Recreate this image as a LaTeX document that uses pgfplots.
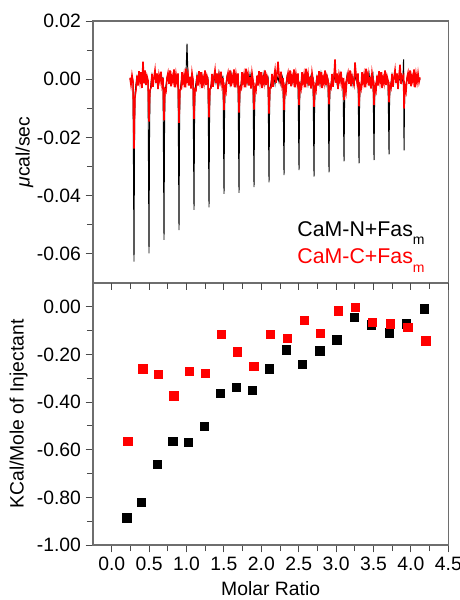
\documentclass[border=0pt]{standalone}
\usepackage{fontspec}
\setmainfont{Liberation Sans}
\usepackage{pgfplots}
\pgfplotsset{compat=1.18}
\usepackage{pgfplotstable}
\definecolor{framegray}{HTML}{6E6E6E}
\definecolor{tickgray}{HTML}{4A4A4A}

% raw ITC trace: time (arbitrary), CaM-N+Fas_m, CaM-C+Fas_m  (ucal/sec)
\pgfplotstableread{
t b r
37 0.0002 0.0005
38 -0.0010 -0.0020
39 0.0006 0.0014
40 -0.0004 -0.0008
41 -0.0627 -0.0238
41.5 -0.0219 -0.0131
42 -0.0050 -0.0060
43 -0.0016 -0.0038
44 0.0008 0.0012
45 -0.0010 -0.0022
46 0.0014 0.0028
47 -0.0004 -0.0008
48 0.0010 0.0024
49 -0.0014 -0.0030
50 0.0004 0.0060
51 -0.0008 -0.0014
52 0.0018 0.0030
53 -0.0006 -0.0020
54 0.0002 0.0010
55 -0.0010 -0.0004
56 -0.0598 -0.0146
56.5 -0.0209 -0.0080
57 -0.0048 -0.0037
58 -0.0012 -0.0030
59 0.0014 0.0018
60 -0.0006 -0.0026
61 0.0004 0.0008
62 0.0016 0.0032
63 -0.0008 -0.0012
64 0.0010 0.0020
65 -0.0018 -0.0034
66 0.0006 0.0014
67 -0.0002 -0.0006
68 0.0012 0.0026
69 -0.0010 -0.0018
70 0.0008 0.0004
71 -0.0552 -0.0141
71.5 -0.0193 -0.0078
72 -0.0044 -0.0035
73 -0.0020 -0.0042
74 0.0002 0.0006
75 0.0012 0.0022
76 -0.0008 -0.0016
77 0.0014 0.0030
78 -0.0012 -0.0024
79 0.0006 0.0010
80 -0.0004 -0.0008
81 0.0020 0.0034
82 -0.0014 -0.0028
83 0.0008 0.0016
84 -0.0006 -0.0010
85 0.0012 0.0020
86 -0.0518 -0.0150
86.5 -0.0181 -0.0083
87 -0.0041 -0.0038
88 -0.0014 -0.0034
89 0.0010 0.0024
90 -0.0004 -0.0012
91 0.0006 0.0014
92 -0.0016 -0.0028
93 0.0020 0.0036
94 0.0122 -0.0006
95 0.0008 0.0018
96 -0.0010 -0.0022
97 0.0004 0.0008
98 -0.0018 -0.0032
99 0.0012 0.0022
100 0.0000 -0.0002
101 -0.0449 -0.0137
101.5 -0.0157 -0.0075
102 -0.0036 -0.0034
103 -0.0012 -0.0038
104 0.0014 0.0012
105 -0.0006 -0.0022
106 0.0004 0.0028
107 0.0016 -0.0008
108 -0.0008 0.0024
109 0.0010 -0.0030
110 -0.0018 0.0006
111 0.0006 -0.0014
112 -0.0002 0.0030
113 0.0012 -0.0020
114 -0.0010 0.0010
115 0.0008 -0.0004
116 -0.0440 -0.0131
116.5 -0.0154 -0.0072
117 -0.0035 -0.0033
118 -0.0020 -0.0030
119 0.0002 0.0018
120 0.0012 -0.0026
121 -0.0008 0.0008
122 0.0014 0.0032
123 -0.0012 -0.0012
124 0.0006 0.0020
125 -0.0004 -0.0034
126 0.0020 0.0014
127 -0.0014 -0.0006
128 0.0008 0.0026
129 -0.0006 -0.0018
130 0.0012 0.0004
131 -0.0394 -0.0106
131.5 -0.0138 -0.0058
132 -0.0032 -0.0027
133 -0.0014 -0.0042
134 0.0010 0.0006
135 -0.0004 0.0022
136 0.0006 -0.0016
137 -0.0016 0.0030
138 0.0020 -0.0024
139 -0.0002 0.0010
140 0.0008 -0.0008
141 -0.0010 0.0034
142 0.0004 -0.0028
143 -0.0018 0.0016
144 0.0012 -0.0010
145 0.0000 0.0020
146 -0.0390 -0.0115
146.5 -0.0137 -0.0063
147 -0.0031 -0.0029
148 -0.0016 -0.0034
149 0.0008 0.0024
150 -0.0010 -0.0012
151 0.0014 0.0014
152 -0.0004 -0.0028
153 0.0010 0.0036
154 -0.0014 -0.0006
155 0.0004 0.0018
156 -0.0008 -0.0022
157 0.0018 0.0008
158 -0.0006 -0.0032
159 0.0002 0.0022
160 -0.0010 -0.0002
161 -0.0371 -0.0104
161.5 -0.0130 -0.0057
162 -0.0030 -0.0026
163 -0.0020 -0.0038
164 0.0002 0.0012
165 0.0012 -0.0022
166 -0.0008 0.0028
167 0.0014 -0.0008
168 -0.0012 0.0024
169 0.0006 -0.0030
170 -0.0004 0.0006
171 0.0020 -0.0014
172 -0.0014 0.0030
173 0.0008 -0.0020
174 -0.0006 0.0010
175 0.0012 -0.0004
176 -0.0354 -0.0118
176.5 -0.0124 -0.0065
177 -0.0028 -0.0030
178 -0.0014 -0.0030
179 0.0010 0.0018
180 -0.0004 -0.0026
181 0.0006 0.0008
182 -0.0016 0.0032
183 0.0020 -0.0012
184 -0.0002 0.0020
185 0.0008 0.0060
186 -0.0010 0.0014
187 0.0004 -0.0006
188 -0.0018 0.0026
189 0.0012 -0.0018
190 0.0000 0.0004
191 -0.0329 -0.0106
191.5 -0.0115 -0.0058
192 -0.0026 -0.0027
193 -0.0016 -0.0042
194 0.0008 0.0006
195 -0.0010 0.0022
196 0.0014 -0.0016
197 -0.0004 0.0030
198 0.0010 -0.0024
199 -0.0014 0.0010
200 0.0004 -0.0008
201 -0.0008 0.0034
202 0.0018 -0.0028
203 -0.0006 0.0016
204 0.0002 -0.0010
205 -0.0010 0.0020
206 -0.0312 -0.0089
206.5 -0.0109 -0.0049
207 -0.0025 -0.0022
208 -0.0012 -0.0034
209 0.0014 0.0024
210 -0.0006 -0.0012
211 0.0004 0.0014
212 0.0016 -0.0028
213 -0.0008 0.0036
214 0.0010 -0.0006
215 -0.0018 0.0018
216 0.0006 -0.0022
217 -0.0002 0.0008
218 0.0012 -0.0032
219 -0.0010 0.0022
220 0.0008 -0.0002
221 -0.0335 -0.0095
221.5 -0.0117 -0.0052
222 -0.0027 -0.0024
223 -0.0014 -0.0038
224 0.0010 0.0012
225 -0.0004 -0.0022
226 0.0006 0.0028
227 -0.0016 -0.0008
228 0.0020 0.0024
229 -0.0002 -0.0030
230 0.0008 0.0006
231 -0.0010 -0.0014
232 0.0004 0.0030
233 -0.0018 -0.0020
234 0.0012 0.0010
235 0.0000 -0.0004
236 -0.0320 -0.0086
236.5 -0.0112 -0.0047
237 -0.0026 -0.0022
238 -0.0016 -0.0030
239 0.0008 0.0018
240 -0.0010 -0.0026
241 0.0014 0.0008
242 -0.0004 0.0068
243 0.0010 -0.0012
244 -0.0014 0.0020
245 0.0004 -0.0034
246 -0.0008 0.0014
247 0.0018 -0.0006
248 -0.0006 0.0026
249 0.0002 -0.0018
250 -0.0010 0.0004
251 -0.0282 -0.0072
251.5 -0.0099 -0.0040
252 -0.0023 -0.0018
253 -0.0012 -0.0042
254 0.0014 0.0006
255 -0.0006 0.0022
256 0.0004 -0.0016
257 0.0016 0.0030
258 -0.0008 -0.0024
259 0.0010 0.0010
260 -0.0018 -0.0008
261 0.0006 -0.0020
262 -0.0002 0.0058
263 0.0012 0.0016
264 -0.0010 -0.0010
265 0.0008 0.0020
266 -0.0289 -0.0093
266.5 -0.0101 -0.0051
267 -0.0023 -0.0023
268 -0.0020 -0.0034
269 0.0002 0.0024
270 0.0012 -0.0012
271 -0.0008 0.0014
272 0.0014 -0.0028
273 -0.0012 0.0036
274 0.0006 -0.0006
275 -0.0004 0.0018
276 0.0020 -0.0022
277 -0.0014 0.0008
278 0.0008 -0.0032
279 -0.0006 0.0022
280 0.0012 -0.0002
281 -0.0278 -0.0089
281.5 -0.0097 -0.0049
282 -0.0022 -0.0022
283 -0.0016 -0.0038
284 0.0008 0.0012
285 -0.0010 -0.0022
286 0.0014 0.0028
287 -0.0004 -0.0008
288 0.0010 0.0024
289 -0.0014 -0.0030
290 0.0004 0.0006
291 -0.0008 -0.0014
292 0.0018 0.0030
293 -0.0006 -0.0020
294 0.0002 0.0010
295 -0.0010 -0.0004
296 -0.0258 -0.0079
296.5 -0.0090 -0.0043
297 -0.0021 -0.0020
298 -0.0012 -0.0030
299 0.0014 0.0018
300 -0.0006 -0.0026
301 0.0004 0.0008
302 0.0016 0.0032
303 -0.0008 -0.0012
304 0.0010 0.0020
305 -0.0018 -0.0034
306 0.0006 0.0014
307 -0.0002 0.0050
308 0.0012 -0.0016
309 -0.0010 0.0012
310 0.0008 0.0004
310.5 0.0068 0.0010
311 -0.0244 -0.0101
311.5 -0.0085 -0.0056
312 -0.0020 -0.0025
313 -0.0020 -0.0042
314 0.0002 0.0006
315 0.0012 0.0022
316 -0.0008 -0.0016
317 0.0014 0.0030
318 -0.0012 -0.0024
319 0.0006 0.0010
320 -0.0004 -0.0008
321 0.0020 0.0034
322 -0.0014 -0.0028
323 0.0008 0.0016
324 -0.0006 -0.0010
325 0.0012 0.0020
326 0.0004 -0.0010
327 -0.0002 0.0006
}\itc

\pgfplotsset{
  itcstyle/.style={
    scale only axis, width=266.5pt, height=196.5pt,
    axis line style={framegray, line width=0.8pt},
    tick style={tickgray, line width=0.7pt},
    major tick length=5.5pt, minor tick length=4.5pt,
    tick align=outside, ytick pos=left,
    scaled ticks=false,
    tick label style={font=\fontsize{14.5}{16}\selectfont},
    label style={font=\fontsize{14.5}{16}\selectfont, inner sep=0pt},
    /pgf/number format/assume math mode=true,
    /pgf/number format/.cd, fixed, zerofill,
  },
}

\begin{document}
\begin{tikzpicture}
\path[use as bounding box] (0,0) rectangle (345pt,450pt);

% upper panel: raw heat trace
\begin{axis}[itcstyle,
  at={(69.75pt,237.75pt)}, anchor=south west,
  xmin=0, xmax=355.3, xtick=\empty,
  ymin=-0.07, ymax=0.02,
  ytick={-0.06,-0.04,-0.02,0,0.02},
  minor ytick={-0.05,-0.03,-0.01,0.01},
  yticklabel style={/pgf/number format/precision=2},
  ylabel={\textit{μ}cal/sec},
  ylabel style={at={(axis description cs:-0.167,0.5)}, anchor=south},
]
\addplot[black, line width=0.7pt] table[x=t, y=b] {\itc};
\addplot[red, line width=1.15pt] table[x=t, y=r] {\itc};
\node[anchor=base east, inner sep=0pt, font=\fontsize{16}{18}\selectfont]
  at (axis description cs:0.934,0.179) {CaM-N+Fas\raisebox{-6.5pt}{\fontsize{10.5}{11}\selectfont m}};
\node[anchor=base east, inner sep=0pt, red, font=\fontsize{16}{18}\selectfont]
  at (axis description cs:0.934,0.075) {CaM-C+Fas\raisebox{-6.5pt}{\fontsize{10.5}{11}\selectfont m}};
\end{axis}

% lower panel: integrated heats
\begin{axis}[itcstyle,
  at={(69.75pt,41.25pt)}, anchor=south west,
  xmin=-0.25, xmax=4.5,
  xtick={0,0.5,1,1.5,2,2.5,3,3.5,4,4.5},
  minor xtick={0.25,0.75,1.25,1.75,2.25,2.75,3.25,3.75,4.25},
  xtick pos=left,
  xticklabel style={/pgf/number format/precision=1},
  ymin=-1, ymax=0.1,
  ytick={-1,-0.8,-0.6,-0.4,-0.2,0},
  minor ytick={-0.9,-0.7,-0.5,-0.3,-0.1},
  yticklabel style={/pgf/number format/precision=2},
  xlabel={Molar Ratio},
  xlabel style={at={(axis description cs:0.5,-0.191)}, anchor=base},
  ylabel={KCal/Mole of Injectant},
  ylabel style={at={(axis description cs:-0.183,0.5)}, anchor=south},
]
\addplot[only marks, mark=square*, mark size=3.1pt, black] coordinates {
  (0.20,-0.886) (0.40,-0.822) (0.61,-0.661) (0.816,-0.564) (1.026,-0.570)
  (1.24,-0.500) (1.454,-0.363) (1.668,-0.338) (1.882,-0.349) (2.106,-0.260)
  (2.33,-0.180) (2.55,-0.242) (2.78,-0.184) (3.007,-0.138) (3.24,-0.045)
  (3.47,-0.075) (3.71,-0.109) (3.94,-0.071) (4.18,-0.008)
};
\addplot[only marks, mark=square*, mark size=3.1pt, red] coordinates {
  (0.214,-0.566) (0.415,-0.260) (0.62,-0.282) (0.83,-0.373) (1.039,-0.272)
  (1.253,-0.279) (1.467,-0.114) (1.681,-0.189) (1.90,-0.249) (2.12,-0.114)
  (2.347,-0.133) (2.57,-0.057) (2.79,-0.112) (3.025,-0.017) (3.257,-0.001)
  (3.485,-0.064) (3.72,-0.071) (3.957,-0.086) (4.198,-0.143)
};
\end{axis}

% inward ticks along the top edge of the lower panel
\begin{axis}[itcstyle,
  at={(69.75pt,41.25pt)}, anchor=south west,
  xmin=-0.25, xmax=4.5, ymin=-1, ymax=0.1,
  axis line style={draw=none},
  tick align=inside, xtick pos=right, xticklabels={},
  xtick={0,0.5,1,1.5,2,2.5,3,3.5,4,4.5},
  minor xtick={0.25,0.75,1.25,1.75,2.25,2.75,3.25,3.75,4.25},
  ytick=\empty,
]
\end{axis}
\end{tikzpicture}
\end{document}
